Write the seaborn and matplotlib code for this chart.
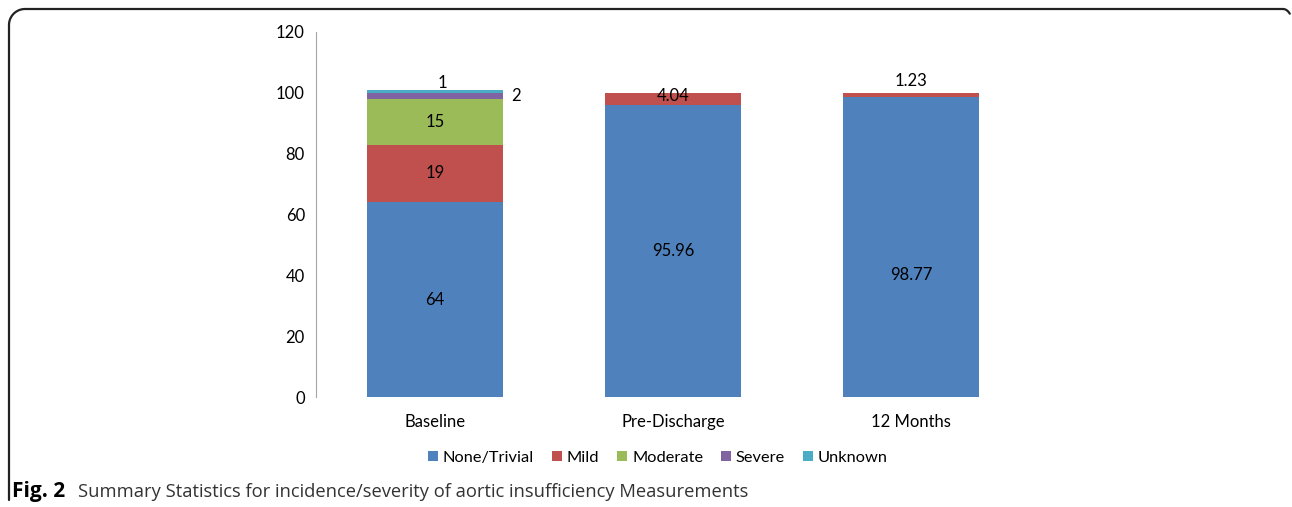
import numpy as np
import pandas as pd
import matplotlib
matplotlib.use("Agg")
import matplotlib.pyplot as plt
from matplotlib.lines import Line2D
import seaborn as sns

timepoints = ["Baseline", "Pre-Discharge", "12 Months"]
severity = ["None/Trivial", "Mild", "Moderate", "Severe", "Unknown"]
none_trivial = [64, 95.96, 98.77]
mild = [19, 4.04, 1.23]
moderate = [15, 0, 0]
severe = [2, 0, 0]
unknown = [1, 0, 0]
colors = ["#4F81BD", "#C0504D", "#9BBB59", "#8064A2", "#4BACC6"]

sns.set_style("white")
plt.rcParams["font.family"] = ["Lato", "DejaVu Sans"]
plt.rcParams["text.color"] = "black"
plt.rcParams["xtick.color"] = "black"
plt.rcParams["ytick.color"] = "black"

fig = plt.figure(figsize=(12.92, 5.07), dpi=100)
ax = fig.add_axes([316 / 1292, 1 - 397 / 507, (1030 - 316) / 1292, (397 - 32) / 507])

series = [none_trivial, mild, moderate, severe, unknown]
bottom = np.zeros(len(timepoints))
for name, vals, c in zip(severity, series, colors):
    sns.barplot(x=timepoints, y=vals, bottom=bottom, color=c, saturation=1,
                width=0.57, label=name, linewidth=0, ax=ax)
    bottom = bottom + np.array(vals)

ax.set_ylim(0, 120)
ax.set_xlim(-0.5, 2.5)
ax.set_yticks(range(0, 121, 20))
for s in ["top", "right", "bottom"]:
    ax.spines[s].set_visible(False)
ax.spines["left"].set_color("#A6A6A6")
ax.tick_params(axis="both", length=0, labelsize=12, pad=8)
ax.tick_params(axis="x", pad=12)

# value labels
fs = 12
ax.text(0, none_trivial[0] / 2, "64", ha="center", va="center", fontsize=fs)
ax.text(0, none_trivial[0] + mild[0] / 2, "19", ha="center", va="center", fontsize=fs)
ax.text(0, none_trivial[0] + mild[0] + moderate[0] / 2, "15", ha="center", va="center", fontsize=fs)
ax.text(0.32, 99, "2", ha="left", va="center", fontsize=fs)
ax.text(0.03, 103.3, "1", ha="center", va="center", fontsize=fs)
ax.text(1, none_trivial[1] / 2, "95.96", ha="center", va="center", fontsize=fs)
ax.text(1, 98.8, "4.04", ha="center", va="center", fontsize=fs)
ax.text(2, 40, "98.77", ha="center", va="center", fontsize=fs)
ax.text(2, 103.8, "1.23", ha="center", va="center", fontsize=fs)

handles, labels = ax.get_legend_handles_labels()
fig.legend(handles, labels, loc="center", bbox_to_anchor=(658 / 1292, 1 - 458 / 507),
           ncol=5, frameon=False, fontsize=11.8, handlelength=0.6, handleheight=0.6,
           handletextpad=0.3, columnspacing=1.1)
if ax.get_legend():
    ax.get_legend().remove()

# caption
fig.text(12 / 1292, 1 - 492 / 507, "Fig. 2", fontsize=15, fontweight="bold",
         family=["Open Sans", "DejaVu Sans"], va="center", ha="left")
fig.text(78 / 1292, 1 - 492 / 507,
         "Summary Statistics for incidence/severity of aortic insufficiency Measurements",
         fontsize=13.2, family=["Open Sans", "DejaVu Sans"], color="#333333",
         va="center", ha="left")

# rounded frame
W, H = 1292, 507
r = 16
t = np.linspace(np.pi, np.pi / 2, 20)
xs = [9, 9] + list(9 + r + r * np.cos(t)) + [1283]
ys = [500, 9 + r] + list(9 + r - r * np.sin(t)) + [9]
t2 = np.linspace(np.pi / 2, np.pi / 4, 10)
xs += list(1283 + r * np.cos(t2) * 0.6)
ys += list(9 + r - r * np.sin(t2))
fig.add_artist(Line2D(np.array(xs) / W, 1 - np.array(ys) / H, color="#222222",
                      lw=1.6, transform=fig.transFigure))

fig.savefig("out.png", dpi=100)
